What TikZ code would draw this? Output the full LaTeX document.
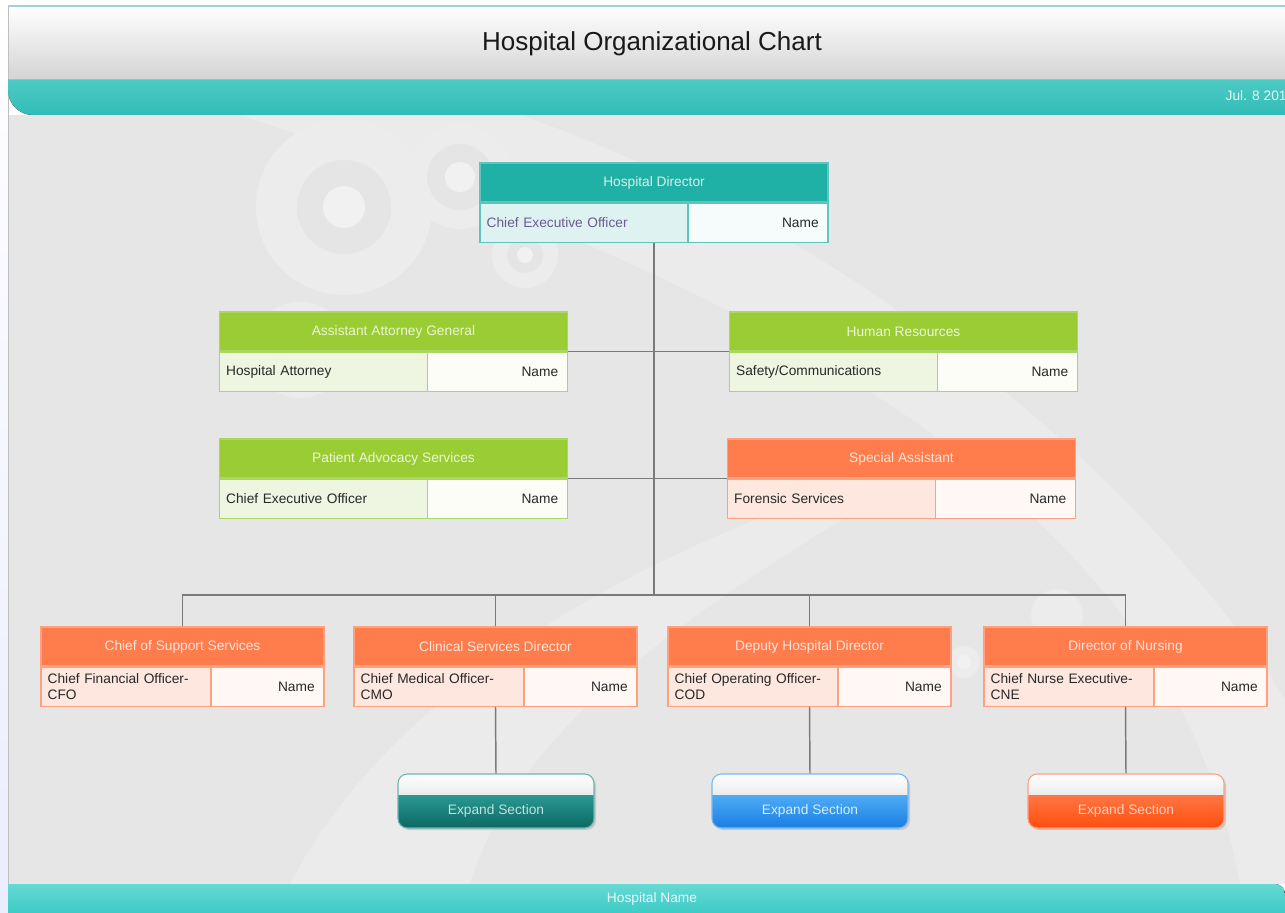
\documentclass[tikz,border=0pt]{standalone}
\usepackage{fontspec}
\setmainfont{Liberation Sans}
\usepackage{tikz}
\usetikzlibrary{positioning}
\usetikzlibrary{shadows}
\definecolor{tealhead}{RGB}{31,177,166}
\definecolor{tealline}{RGB}{94,196,188}
\definecolor{tealcell}{RGB}{222,243,241}
\definecolor{tealname}{RGB}{246,252,252}
\definecolor{tealtitle}{RGB}{214,240,237}
\definecolor{greenhead}{RGB}{154,204,51}
\definecolor{greenline}{RGB}{170,214,100}
\definecolor{greencell}{RGB}{238,246,226}
\definecolor{greenname}{RGB}{251,253,246}
\definecolor{greentitle}{RGB}{236,246,214}
\definecolor{orangehead}{RGB}{255,124,77}
\definecolor{orangeline}{RGB}{255,160,126}
\definecolor{orangecell}{RGB}{253,231,223}
\definecolor{orangename}{RGB}{255,248,245}
\definecolor{orangetitle}{RGB}{255,228,216}
\definecolor{txt}{RGB}{40,40,40}
\definecolor{purp}{RGB}{106,92,144}
\definecolor{bggray}{RGB}{230,230,230}
\definecolor{bglight}{RGB}{236,236,236}
\definecolor{bgdark}{RGB}{229,229,229}
\definecolor{bgdot}{RGB}{241,241,241}
\definecolor{bandtop}{RGB}{76,202,196}
\definecolor{bandbot}{RGB}{50,188,183}
\definecolor{foottop}{RGB}{102,217,212}
\definecolor{footbot}{RGB}{62,203,197}
\definecolor{linkgray}{RGB}{122,122,122}
\definecolor{btntealtop}{RGB}{42,152,146}
\definecolor{btntealbot}{RGB}{12,104,98}
\definecolor{btntealline}{RGB}{110,180,175}
\definecolor{btntealtext}{RGB}{190,226,222}
\definecolor{btnbluetop}{RGB}{78,172,246}
\definecolor{btnbluebot}{RGB}{26,126,226}
\definecolor{btnblueline}{RGB}{120,186,240}
\definecolor{btnbluetext}{RGB}{214,236,255}
\definecolor{btnorangetop}{RGB}{255,118,66}
\definecolor{btnorangebot}{RGB}{255,78,14}
\definecolor{btnorangeline}{RGB}{255,160,130}
\definecolor{btnorangetext}{RGB}{255,206,188}
\newcommand\orgfont{\fontsize{10.3}{12}\selectfont}
\tikzset{
  head/.style={rectangle, draw=#1line, fill=#1head, text=#1title, line width=0.8pt,
    inner sep=0pt, minimum height=29.25pt, font=\orgfont},
  rolecell/.style={rectangle, draw=#1line, fill=#1cell, text=txt, line width=0.8pt,
    inner xsep=5pt, inner ysep=0pt, minimum height=29.5pt, align=left,
    anchor=north west, font=\orgfont},
  namecell/.style={rectangle, draw=#1line, fill=#1name, text=txt, line width=0.8pt,
    inner xsep=7pt, inner ysep=0pt, minimum height=29.5pt, align=right,
    anchor=north east, font=\orgfont},
  wide/.style={minimum width=261pt},
  narrow/.style={minimum width=212.25pt},
  wide role/.style={text width=146pt},
  wide name/.style={text width=91pt},
  narrow role/.style={text width=117.5pt},
  narrow name/.style={text width=70.75pt},
  link/.style={draw=linkgray, line width=1.1pt},
  expbtn/.style 2 args={rectangle, rounded corners=7pt, line width=0.8pt,
    minimum width=147pt, minimum height=40.5pt, inner sep=0pt,
    drop shadow={shadow xshift=1.5pt, shadow yshift=-1.5pt, opacity=0.3},
    path picture={
      \fill[sharp corners, top color=white, bottom color=black!20]
        (path picture bounding box.north west) rectangle
        ([yshift=-15.75pt]path picture bounding box.north east);
      \fill[sharp corners, top color=#1, bottom color=#2]
        ([yshift=-15.75pt]path picture bounding box.north west) rectangle
        (path picture bounding box.south east);
    }},
  exptext/.style={font=\orgfont, inner sep=0pt}
}

\begin{document}
\begin{tikzpicture}[x=0.75pt, y=-0.75pt]
    \useasboundingbox (0,0) rectangle (1285,913);

    % 1. Page frame and left strip
    \fill[white] (0,0) rectangle (1285,913);
    \fill[top color=white, bottom color=cyan!12!blue!8] (0,6) rectangle (8,913);
    \fill[bggray] (8,115) rectangle (1285,884);

    % 2. Background decoration (kept inside the main area)
    \begin{scope}
        \clip (8,115) rectangle (1285,884);
        \fill[white, opacity=0.22] (240,115) -- (520,115)
            .. controls (850,230) and (1150,480) .. (1285,700)
            -- (1285,884) -- (1240,884)
            .. controls (1180,560) and (900,330) .. (240,115) -- cycle;
        \fill[white, opacity=0.22] (290,884)
            .. controls (390,690) and (640,540) .. (960,450)
            .. controls (700,600) and (520,720) .. (470,884) -- cycle;
        \fill[bglight] (344,207) circle (88);
        \fill[bgdark] (344,207) circle (47);
        \fill[bgdot] (344,207) circle (21);
        \fill[bglight] (460,177) circle (52);
        \fill[bgdark] (460,177) circle (33);
        \fill[bgdot] (460,177) circle (15);
        \fill[bglight] (525,255) circle (33);
        \fill[bgdark] (525,255) circle (18);
        \fill[bgdot] (525,255) circle (8);
        \fill[bglight] (300,350) circle (48);
        \fill[bglight] (1057,615) circle (26);
        \fill[bglight] (964,662) circle (16);
        \fill[bgdot] (964,662) circle (7);
    \end{scope}

    % 3. Header with title and teal band
    \fill[top color=white, bottom color=black!17] (8,6) rectangle (1285,80);
    \draw[cyan!30!teal!40, line width=1pt] (8,6) -- (1285,6);
    \draw[black!25, line width=0.6pt] (8,6) -- (8,913);
    \fill[top color=bandtop, bottom color=bandbot] (8,80) -- (1285,80) -- (1285,115)
        -- (33,115) arc (90:180:25) -- cycle;
    \node[font=\fontsize{19.5}{22}\selectfont, text=black!90] (title) at (652,44)
        {Hospital Organizational Chart};
    \node[font=\orgfont, text=white!85!bandtop, anchor=west] (date) at (1221,96)
        {Jul. 8 201};

    % 4. Footer band
    \fill[top color=foottop, bottom color=footbot] (8,913) -- (8,884) -- (1275,884)
        arc (-90:0:10) -- (1285,913) -- cycle;
    \node[font=\orgfont, text=white!85!foottop] (footer) at (652,899) {Hospital Name};

    % 5. Director
    \node[head=teal, wide] (dir) at (654,182.5) {Hospital Director};
    \node[rolecell=teal, wide role, text=purp] (dir-l) at (dir.south west) {Chief Executive Officer};
    \node[namecell=teal, wide name] (dir-r) at (dir.south east) {Name};

    % 6. Staff boxes beside the trunk
    \node[head=green, wide] (aag) at (393.5,331.5) {Assistant Attorney General};
    \node[rolecell=green, wide role] (aag-l) at (aag.south west) {Hospital Attorney};
    \node[namecell=green, wide name] (aag-r) at (aag.south east) {Name};

    \node[head=green, wide] (hr) at (903.5,331.5) {Human Resources};
    \node[rolecell=green, wide role] (hr-l) at (hr.south west) {Safety/Communications};
    \node[namecell=green, wide name] (hr-r) at (hr.south east) {Name};

    \node[head=green, wide] (pas) at (393.5,458.5) {Patient Advocacy Services};
    \node[rolecell=green, wide role] (pas-l) at (pas.south west) {Chief Executive Officer};
    \node[namecell=green, wide name] (pas-r) at (pas.south east) {Name};

    \node[head=orange, wide] (sa) at (901.5,458.5) {Special Assistant};
    \node[rolecell=orange, wide role] (sa-l) at (sa.south west) {Forensic Services};
    \node[namecell=orange, wide name] (sa-r) at (sa.south east) {Name};

    % 7. Bottom row of directors
    \node[head=orange, narrow] (css) at (182.5,646.5) {Chief of Support Services};
    \node[rolecell=orange, narrow role] (css-l) at (css.south west) {Chief Financial Officer-\\CFO};
    \node[namecell=orange, narrow name] (css-r) at (css.south east) {Name};

    \node[head=orange, narrow] (csd) at (495.5,646.5) {Clinical Services Director};
    \node[rolecell=orange, narrow role] (csd-l) at (csd.south west) {Chief Medical Officer-\\CMO};
    \node[namecell=orange, narrow name] (csd-r) at (csd.south east) {Name};

    \node[head=orange, narrow] (dhd) at (809.5,646.5) {Deputy Hospital Director};
    \node[rolecell=orange, narrow role] (dhd-l) at (dhd.south west) {Chief Operating Officer-\\COD};
    \node[namecell=orange, narrow name] (dhd-r) at (dhd.south east) {Name};

    \node[head=orange, narrow] (don) at (1125.5,646.5) {Director of Nursing};
    \node[rolecell=orange, narrow role] (don-l) at (don.south west) {Chief Nurse Executive-\\CNE};
    \node[namecell=orange, narrow name] (don-r) at (don.south east) {Name};

    % 8. Expand buttons
    \node[expbtn={btntealtop}{btntealbot}, draw=btntealline] (exp1) at (496,801) {};
    \node[exptext, text=btntealtext] (exp1-t) at ([yshift=-7.5pt]exp1.center) {Expand Section};
    \node[expbtn={btnbluetop}{btnbluebot}, draw=btnblueline] (exp2) at (810,801) {};
    \node[exptext, text=btnbluetext] (exp2-t) at ([yshift=-7.5pt]exp2.center) {Expand Section};
    \node[expbtn={btnorangetop}{btnorangebot}, draw=btnorangeline] (exp3) at (1126,801) {};
    \node[exptext, text=btnorangetext] (exp3-t) at ([yshift=-7.5pt]exp3.center) {Expand Section};

    % 9. Connectors
    \coordinate (bus) at (654,595);
    \draw[link] (dir-l.south -| dir.south) -- (bus);
    \draw[link] (aag.south east) -- (hr.south west);
    \draw[link] (pas.south east) -- (sa.south west);
    \draw[link] (css.north) |- (bus) -| (don.north);
    \draw[link] (csd.north) -- (csd.north |- bus);
    \draw[link] (dhd.north) -- (dhd.north |- bus);
    \draw[link] (csd-l.south -| csd.south) -- (exp1.north);
    \draw[link] (dhd-l.south -| dhd.south) -- (exp2.north);
    \draw[link] (don-l.south -| don.south) -- (exp3.north);
\end{tikzpicture}
\end{document}
